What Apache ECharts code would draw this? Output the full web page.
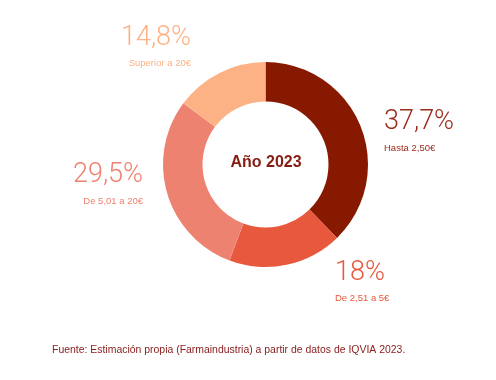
<!DOCTYPE html>
<html><head><meta charset="utf-8">
<script src="https://cdn.jsdelivr.net/npm/echarts@6/dist/echarts.min.js"></script>
<style>html,body{margin:0;padding:0;background:#fff}#c{width:496px;height:380px}</style>
</head><body><div id="c"></div>
<script>
const categories = ['Hasta 2,50€', 'De 2,51 a 5€', 'De 5,01 a 20€', 'Superior a 20€'];
const values = [37.7, 18, 29.5, 14.8];
const colors = ['#861900', '#E8583D', '#EE8271', '#FDB286'];
const labelColors = ['#9A2C1C', '#E8583D', '#EE8271', '#FDB286'];
const centerText = 'Año 2023';
const sourceText = 'Fuente: Estimación propia (Farmaindustria) a partir de datos de IQVIA 2023.';

const labelPos = [
  {x: 384, y: 105.5, align: 'left'},
  {x: 335, y: 256, align: 'left'},
  {x: 143, y: 158.5, align: 'right'},
  {x: 191, y: 21, align: 'right'}
];

const chart = echarts.init(document.getElementById('c'), null, {renderer: 'canvas'});
chart.setOption({
  animation: false,
  backgroundColor: '#fff',
  graphic: [
    {type: 'text', x: 266, y: 162.5, silent: true,
     style: {text: centerText, align: 'center', verticalAlign: 'middle',
       font: 'bold 16px "Liberation Sans"', fill: '#861C12'}},
    {type: 'text', x: 52, y: 350, silent: true,
     style: {text: sourceText, align: 'left', verticalAlign: 'middle',
       font: '10.45px "Liberation Sans"', fill: '#8B2020'}}
  ],
  series: [{
    type: 'pie',
    center: [265.5, 164.5],
    radius: [63, 102.5],
    startAngle: 90,
    clockwise: true,
    silent: true,
    emphasis: {disabled: true},
    labelLine: {show: false},
    data: values.map((v, i) => ({
      value: v, name: categories[i],
      itemStyle: {color: colors[i]},
      label: {color: labelColors[i]}
    })),
    label: {
      show: true,
      formatter: p => '{p|' + String(p.value).replace('.', ',') + '%}\n{c|' + p.name + '}',
      rich: {
        p: {fontFamily: 'Roboto', fontWeight: 300, fontSize: 27, lineHeight: 34},
        c: {fontFamily: 'Liberation Sans', fontSize: 9.5, lineHeight: 17}
      }
    },
    labelLayout: params => {
      const lp = labelPos[params.dataIndex];
      return {x: lp.x, y: lp.y, align: lp.align, verticalAlign: 'top', hideOverlap: false};
    }
  }]
});
</script></body></html>
